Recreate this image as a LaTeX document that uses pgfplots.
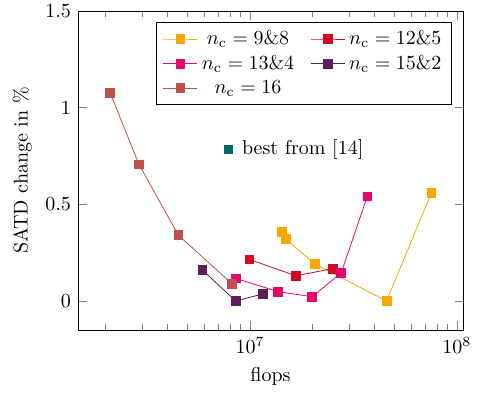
\documentclass[border=0pt]{standalone}
\usepackage{pgfplots}
\pgfplotsset{compat=1.18}
\definecolor{cOrange}{HTML}{F6A800}
\definecolor{cRed}{HTML}{D00A26}
\definecolor{cMag}{HTML}{E6076E}
\definecolor{cPurp}{HTML}{5F1D5C}
\definecolor{cBrown}{HTML}{C0504D}
\definecolor{cTeal}{HTML}{006A6A}
\begin{document}
\begin{tikzpicture}
\useasboundingbox (-39pt,-32pt) rectangle (204pt,165pt);
\begin{axis}[
  at={(0,0)}, anchor=south west,
  scale only axis, width=192.5pt, height=159.5pt,
  xmode=log, xmin=1.476e6, xmax=1.07e8,
  ymin=-0.15, ymax=1.5,
  ytick={0,0.5,1,1.5},
  xlabel={flops}, ylabel={SATD change in \%},
  every axis plot/.append style={mark=square*, mark size=2.2pt, thin},
  legend columns=2,
  legend style={at={(0.971,0.965)}, anchor=north east, font=\normalsize,
    /tikz/every even column/.append style={column sep=3.5pt}},
  legend cell align=center,
]
\addplot[color=cOrange, mark options={fill=cOrange}] coordinates {
(1.42e7,0.356) (1.49e7,0.320) (2.06e7,0.191) (4.57e7,0.0) (7.52e7,0.558)};
\addlegendentry{$n_{\mathrm{c}}=9\&8$\rule{2.5pt}{0pt}}
\addplot[color=cRed, mark options={fill=cRed}] coordinates {
(9.93e6,0.215) (1.67e7,0.130) (2.52e7,0.168)};
\addlegendentry{$n_{\mathrm{c}}=12\&5$}
\addplot[color=cMag, mark options={fill=cMag}] coordinates {
(8.53e6,0.117) (1.37e7,0.048) (2.0e7,0.022) (2.76e7,0.146) (3.69e7,0.541)};
\addlegendentry{$n_{\mathrm{c}}=13\&4$\rule{2.5pt}{0pt}}
\addplot[color=cPurp, mark options={fill=cPurp}] coordinates {
(5.89e6,0.160) (8.53e6,0.0) (1.15e7,0.036)};
\addlegendentry{$n_{\mathrm{c}}=15\&2$}
\addplot[color=cBrown, mark options={fill=cBrown}] coordinates {
(2.11e6,1.076) (2.91e6,0.706) (4.51e6,0.340) (8.21e6,0.088)};
\addlegendentry{$n_{\mathrm{c}}=16$\rule{2.5pt}{0pt}}
\addplot[color=cTeal, only marks, mark size=2pt, forget plot] coordinates {(7.83e6,0.783)}
  node[right, text=black, xshift=3.5pt] {best from [14]};
\end{axis}
\end{tikzpicture}
\end{document}
